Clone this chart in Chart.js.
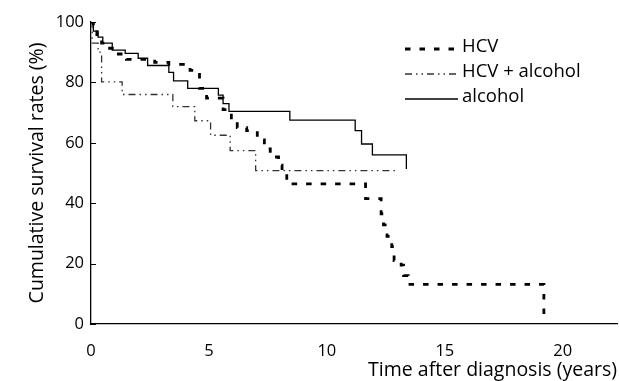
<!DOCTYPE html>
<html>
<head>
<meta charset="utf-8">
<script src="https://cdn.jsdelivr.net/npm/chart.js@4.4.1/dist/chart.umd.min.js"></script>
<style>
  body { margin: 0; background: #fff; }
  #wrap { width: 619px; height: 381px; }
</style>
</head>
<body>
<div id="wrap"><canvas id="survivalChart" width="619" height="381"></canvas></div>
<script>
// Kaplan-Meier curves (time in years, survival in %)
const hcvTime = [0, 0.1, 0.25, 0.45, 0.62, 1.05, 1.5, 2.7, 3.3, 4.2, 4.6, 4.9, 5.6, 5.95, 6.2, 6.6, 7.05, 7.35, 7.6, 7.95, 8.1, 8.3, 11.64, 12.3, 12.4, 12.55, 12.75, 12.85, 13.15, 13.25, 13.45, 19.2];
const hcvSurv = [100, 97.5, 95, 93, 91.3, 89.4, 87.6, 86.6, 86, 84, 78, 74.8, 71, 67.5, 65, 64, 61, 58, 55.3, 52.6, 50, 46.4, 41.5, 36.5, 32.8, 29, 25.6, 21, 19.5, 16, 13.1, 0];

const hcvAlcTime = [0, 0.05, 0.3, 0.45, 1.32, 3.47, 4.4, 5.07, 5.9, 6.98, 13.0];
const hcvAlcSurv = [100, 93, 90, 80.2, 76, 72, 67.3, 62.5, 57.4, 50.8, 50.8];

const alcTime = [0, 0.1, 0.3, 0.5, 0.9, 1.45, 2.0, 2.4, 3.3, 3.5, 4.1, 5.4, 5.6, 5.85, 8.43, 11.2, 11.47, 11.93, 13.37, 13.37];
const alcSurv = [100, 97, 95, 93, 90.7, 89.6, 88, 85.6, 83.3, 80.5, 78, 75.8, 73, 70.4, 67.5, 64, 59.6, 56, 56, 51.3];

const seriesLabels = ["HCV", "HCV + alcohol", "alcohol"];
const xTicks = [0, 5, 10, 15, 20];
const yTicks = [0, 20, 40, 60, 80, 100];

const FONT = "'Open Sans', 'Noto Sans', sans-serif";

function toPoints(ts, ss) {
  return ts.map((t, i) => ({ x: t, y: ss[i] }));
}

const data = {
  datasets: [
    {
      label: seriesLabels[0],
      data: toPoints(hcvTime, hcvSurv),
      borderColor: "#000",
      borderWidth: 2.8,
      borderDash: [5.5, 9],
    },
    {
      label: seriesLabels[1],
      data: toPoints(hcvAlcTime, hcvAlcSurv),
      borderColor: "#333",
      borderWidth: 1.3,
      borderDash: [7, 4, 1.5, 4, 1.5, 4],
    },
    {
      label: seriesLabels[2],
      data: toPoints(alcTime, alcSurv),
      borderColor: "#000",
      borderWidth: 1.3,
      borderDash: [],
    },
  ],
};

// short tick marks pointing into the plot on the y axis
const inwardTicks = {
  id: "inwardTicks",
  afterDraw(chart) {
    const ctx = chart.ctx;
    const y = chart.scales.y;
    const left = chart.chartArea.left;
    ctx.save();
    ctx.strokeStyle = "#000";
    ctx.lineWidth = 1;
    yTicks.forEach((v) => {
      const py = Math.round(y.getPixelForValue(v)) + 0.5;
      ctx.beginPath();
      ctx.moveTo(left, py);
      ctx.lineTo(left + 5, py);
      ctx.stroke();
    });
    ctx.restore();
  },
};

// legend drawn inside the plot, top right
const insideLegend = {
  id: "insideLegend",
  afterDraw(chart) {
    const ctx = chart.ctx;
    ctx.save();
    ctx.font = "18.5px " + FONT;
    ctx.textBaseline = "middle";
    ctx.fillStyle = "#000";
    chart.data.datasets.forEach((ds, i) => {
      const yy = 47 + i * 25;
      ctx.beginPath();
      ctx.strokeStyle = ds.borderColor;
      ctx.lineWidth = ds.borderWidth;
      ctx.setLineDash(ds.borderDash);
      ctx.moveTo(405, yy + 2);
      ctx.lineTo(458, yy + 2);
      ctx.stroke();
      ctx.setLineDash([]);
      ctx.fillText(ds.label, 462, yy);
    });
    ctx.restore();
  },
};

const config = {
  type: "line",
  data: data,
  options: {
    responsive: false,
    animation: false,
    layout: { padding: { top: 22, right: 2, left: 0, bottom: 0 } },
    elements: {
      point: { radius: 0 },
      line: { stepped: true, fill: false, tension: 0 },
    },
    plugins: {
      legend: { display: false },
      tooltip: { enabled: false },
    },
    scales: {
      x: {
        type: "linear",
        min: 0,
        max: 22.3,
        afterFit: (s) => { s.height = 57; },
        afterBuildTicks: (s) => { s.ticks = xTicks.map((v) => ({ value: v })); },
        grid: { display: true, drawOnChartArea: false, drawTicks: false },
        border: { display: true, color: "#000", width: 1.3 },
        ticks: { color: "#000", font: { family: FONT, size: 16.5 }, padding: 17 },
        title: {
          display: true,
          text: "Time after diagnosis (years)",
          align: "end",
          color: "#000",
          font: { family: FONT, size: 19.5 },
          padding: { top: 0, bottom: -1 },
        },
      },
      y: {
        min: 0,
        max: 100,
        afterFit: (s) => { s.width = 91; },
        afterBuildTicks: (s) => { s.ticks = yTicks.map((v) => ({ value: v })); },
        grid: { display: true, drawOnChartArea: false, drawTicks: false },
        border: { display: true, color: "#000", width: 1.3 },
        ticks: { color: "#000", font: { family: FONT, size: 16.5 }, padding: 7 },
        title: {
          display: true,
          text: "Cumulative survival rates (%)",
          color: "#000",
          font: { family: FONT, size: 19.5 },
          padding: { top: 26, bottom: 0 },
        },
      },
    },
  },
  plugins: [inwardTicks, insideLegend],
};

const survivalChart = new Chart(document.getElementById("survivalChart"), config);
</script>
</body>
</html>
